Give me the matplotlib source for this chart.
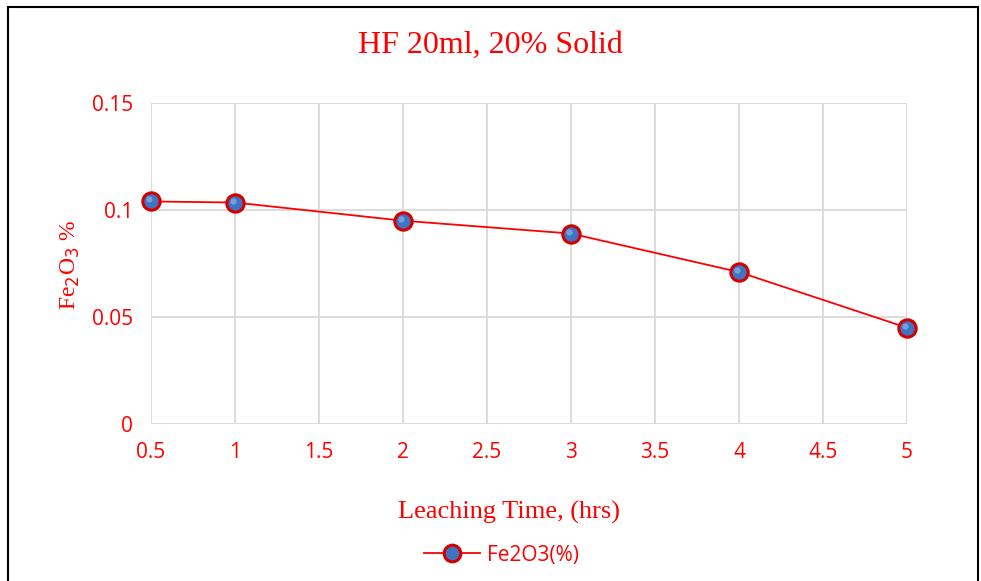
import matplotlib.pyplot as plt
import matplotlib.transforms as mtransforms
from matplotlib.patches import Rectangle
from matplotlib.lines import Line2D

# Leaching time (hrs) and Fe2O3 content (%)
tiempo = [0.5, 1, 2, 3, 4, 5]
fe2o3 = [0.104, 0.1035, 0.095, 0.089, 0.071, 0.045]

x_ticks = [0.5, 1, 1.5, 2, 2.5, 3, 3.5, 4, 4.5, 5]
x_labels = ['0.5', '1', '1.5', '2', '2.5', '3', '3.5', '4', '4.5', '5']
y_ticks = [0, 0.05, 0.1, 0.15]
y_labels = ['0', '0.05', '0.1', '0.15']

rojo = '#ff0000'
fig = plt.figure(figsize=(9.81, 5.81), dpi=100)
ax = fig.add_axes([0.1539, 0.2702, 0.7707, 0.5525])

# marco negro del grafico
fig.patches.append(Rectangle((8 / 981, -0.05), 970 / 981, 1.05 - 7 / 581,
                             transform=fig.transFigure, fill=False,
                             edgecolor='black', linewidth=1.5))

ax.plot(tiempo, fe2o3, color=rojo, linewidth=1.3, zorder=3, clip_on=False)
ax.plot(tiempo, fe2o3, linestyle='none', marker='o', markersize=12.5,
        markerfacecolor='#3f74c2', markeredgecolor='#d40000',
        markeredgewidth=2.2, zorder=4, clip_on=False)
# brillo de la esfera
brillo = ax.transData + mtransforms.ScaledTranslation(-2 / 100, 2 / 100,
                                                     fig.dpi_scale_trans)
ax.plot(tiempo, fe2o3, linestyle='none', marker='o', markersize=4.5,
        markerfacecolor='#8db4ea', markeredgecolor='none', alpha=0.7,
        zorder=5, clip_on=False, transform=brillo)

ax.set_xlim(0.5, 5)
ax.set_ylim(0, 0.15)
ax.set_xticks(x_ticks)
ax.set_xticklabels(x_labels)
ax.set_yticks(y_ticks)
ax.set_yticklabels(y_labels)
ax.tick_params(length=0, labelsize=15, labelcolor=rojo, pad=13)
for lbl in ax.get_xticklabels() + ax.get_yticklabels():
    lbl.set_family('Open Sans')
ax.grid(True, color='#d9d9d9', linewidth=1.3)
for s in ax.spines.values():
    s.set_visible(False)

fig.text(0.5, 1 - 45 / 581, 'HF 20ml, 20% Solid', ha='center', va='center',
         color=rojo, fontsize=23, family='Liberation Serif')
fig.text(0.5189, 1 - 512 / 581, 'Leaching Time, (hrs)', ha='center',
         va='center', color=rojo, fontsize=19, family='Liberation Serif')
fig.text(70 / 981, 1 - 265 / 581, r'Fe$_2$O$_3$ %', ha='center', va='center',
         rotation=90, color=rojo, fontsize=17, family='Liberation Serif')

h = Line2D([], [], color=rojo, linewidth=1.3, marker='o', markersize=12,
           markerfacecolor='#3f74c2', markeredgecolor='#d40000',
           markeredgewidth=2.2)
fig.legend([h], ['Fe2O3(%)'], loc='center', bbox_to_anchor=(0.511, 1 - 555 / 581),
           frameon=False, prop={'family': 'Open Sans', 'size': 15},
           labelcolor=rojo, handlelength=2.7, handletextpad=0.3)

plt.savefig('out.png', dpi=100)
